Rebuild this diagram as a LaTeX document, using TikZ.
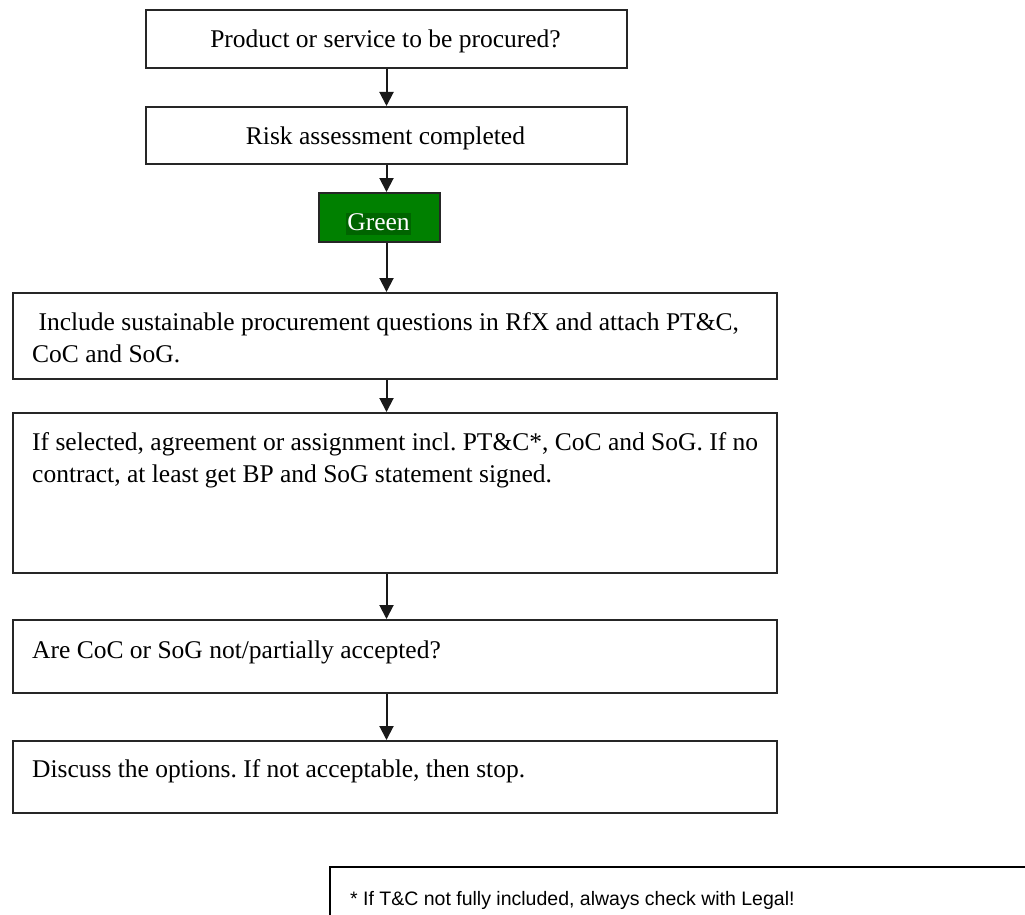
\documentclass[tikz,border=0pt]{standalone}
\usepackage{fontspec}
\setmainfont{Liberation Serif}
\newfontfamily\notefont{Liberation Sans}
\usetikzlibrary{arrows.meta}
\definecolor{boxgreen}{RGB}{0,128,0}
\definecolor{hlgreen}{RGB}{0,100,0}
\frenchspacing
\begin{document}
\begin{tikzpicture}[x=1pt,y=-1pt,
  flowbox/.style={draw=black!85, line width=2pt, rectangle, inner sep=0pt, anchor=north west},
  boxtext/.style={inner sep=0pt, anchor=base west, align=left, font=\fontsize{25.5}{32}\selectfont},
  ctext/.style={inner sep=0pt, anchor=base, font=\fontsize{25.5}{32}\selectfont},
  arr/.style={-{Triangle[length=14pt,width=14pt]}, line width=2pt, black!90}]
\useasboundingbox (0,0) rectangle (1025,915);
\clip (0,0) rectangle (1025,915);
\fill[white] (0,0) rectangle (1025,915);
% boxes
\node[flowbox, minimum width=481pt, minimum height=58pt] (b1) at (145,9) {};
\node[flowbox, minimum width=481pt, minimum height=57pt] (b2) at (145,106) {};
\node[flowbox, fill=boxgreen, minimum width=121pt, minimum height=49pt] (g) at (318,192) {};
\node[flowbox, minimum width=764pt, minimum height=86pt] (b3) at (12,292) {};
\node[flowbox, minimum width=764pt, minimum height=160pt] (b4) at (12,412) {};
\node[flowbox, minimum width=764pt, minimum height=73pt] (b5) at (12,619) {};
\node[flowbox, minimum width=764pt, minimum height=72pt] (b6) at (12,740) {};
\node[draw=black, line width=2pt, rectangle, inner sep=0pt, anchor=north west,
      minimum width=720pt, minimum height=80pt] (fn) at (329,866) {};
% texts
\node[ctext] (t1) at (385.5,48) {Product or service to be procured?};
\node[ctext] (t2) at (385.5,144) {Risk assessment completed};
\node[ctext, text=white, fill=hlgreen, inner xsep=1pt, text height=17pt, text depth=5pt] (tg) at (378.5,230) {Green};
\node[boxtext] (t3a) at (32,330) {\hspace*{0.25em}Include sustainable procurement questions in RfX and attach PT\&C,};
\node[boxtext] (t3b) at (32,362) {CoC and SoG.};
\node[boxtext] (t4a) at (32,450) {If selected, agreement or assignment incl. PT\&C*, CoC and SoG. If no};
\node[boxtext] (t4b) at (32,482) {contract, at least get BP and SoG statement signed.};
\node[boxtext] (t5) at (32,658) {Are CoC or SoG not/partially accepted?};
\node[boxtext] (t6) at (32,777) {Discuss the options. If not acceptable, then stop.};
\node[inner sep=0pt, anchor=base west, font=\notefont\fontsize{19.5}{24}\selectfont] (tn) at (350,905) {* If T\&C not fully included, always check with Legal!};
% connectors
\draw[arr] (b1.south) -- (b2.north);
\draw[arr] (b2.south) -- (b2.south |- g.north);
\draw[arr] (b2.south |- g.south) -- (b2.south |- b3.north);
\draw[arr] (b2.south |- b3.south) -- (b2.south |- b4.north);
\draw[arr] (b2.south |- b4.south) -- (b2.south |- b5.north);
\draw[arr] (b2.south |- b5.south) -- (b2.south |- b6.north);
\end{tikzpicture}
\end{document}
